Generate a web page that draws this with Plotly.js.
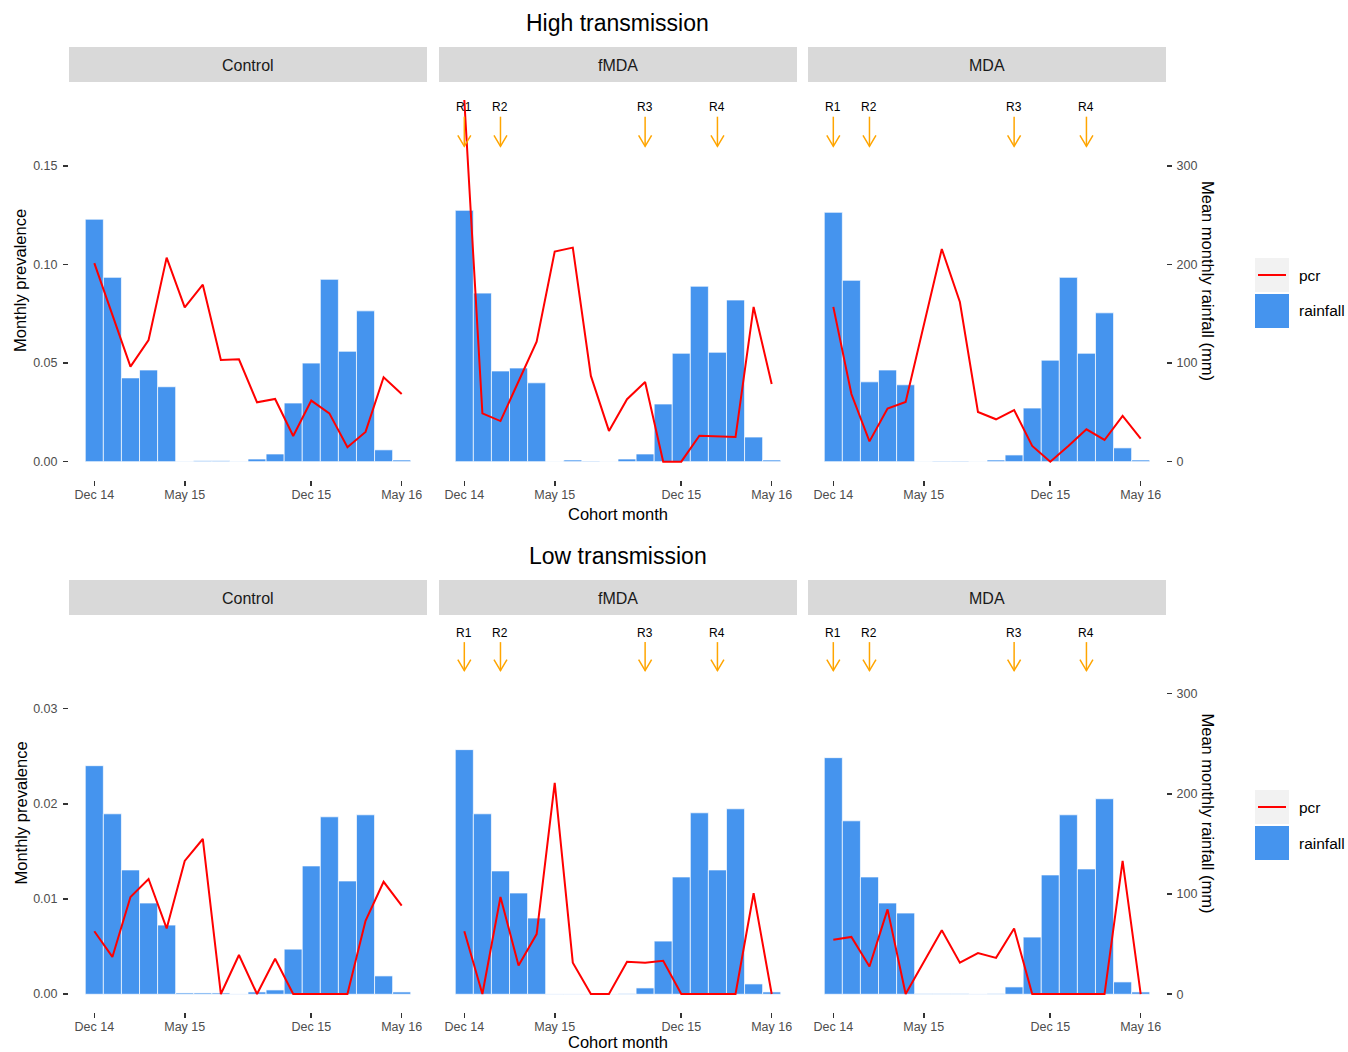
<!DOCTYPE html>
<html><head><meta charset="utf-8">
<script src="https://cdn.plot.ly/plotly-3.0.1.min.js"></script>
<style>html,body{margin:0;padding:0;background:#fff}#chart{width:1348px;height:1052px}</style>
</head><body><div id="chart"></div>
<script>
// ---------- data ----------
const months = ['Dec 14','Jan 15','Feb 15','Mar 15','Apr 15','May 15','Jun 15','Jul 15','Aug 15','Sep 15','Oct 15','Nov 15','Dec 15','Jan 16','Feb 16','Mar 16','Apr 16','May 16'];
const tickMonths = ['Dec 14','May 15','Dec 15','May 16'];
const arms = ['Control','fMDA','MDA'];
const rowTitles = ['High transmission','Low transmission'];
const roundLabels = ['R1','R2','R3','R4'];
const roundMonths = ['Dec 14','Feb 15','Oct 15','Feb 16'];
const prevTickVals = [[0,0.05,0.10,0.15],[0,0.01,0.02,0.03]];
const prevTickText = [['0.00','0.05','0.10','0.15'],['0.00','0.01','0.02','0.03']];
const rainTickVals = [0,100,200,300];
const rainTickText = ['0','100','200','300'];

// High transmission: mean monthly rainfall (mm) and monthly PCR prevalence
const rainHighControl = [246, 187, 85, 93, 76, 0.4, 1, 1, 0.4, 2.7, 7.8, 59.5, 100, 185, 112, 153, 12, 1.7];
const pcrHighControl  = [0.1007, 0.074, 0.0482, 0.0617, 0.1035, 0.0783, 0.0898, 0.0516, 0.0519, 0.0301, 0.0318, 0.0130, 0.0310, 0.0245, 0.0073, 0.0151, 0.0428, 0.0343];
const rainHighFMDA    = [255, 171, 92, 95, 80, 0.3, 1.7, 0.7, 0.3, 2.7, 7.8, 58.5, 110, 178, 111, 164, 25, 1.7];
const pcrHighFMDA     = [0.1835, 0.0245, 0.0206, 0.041, 0.0609, 0.1066, 0.1086, 0.0435, 0.0156, 0.0317, 0.0404, 0, 0, 0.0132, 0.0130, 0.0125, 0.0785, 0.0394];
const rainHighMDA     = [253, 184, 81, 93, 78, 0.3, 0.7, 0.7, 0.3, 1.7, 6.8, 54.4, 103, 187, 110, 151, 14, 1.7];
const pcrHighMDA      = [0.0785, 0.0343, 0.0103, 0.0269, 0.0303, 0.0685, 0.1079, 0.0810, 0.0252, 0.0215, 0.0262, 0.0080, 0, 0.0080, 0.0164, 0.0110, 0.0232, 0.0117];

// Low transmission
const rainLowControl = [228, 180, 124, 91, 69, 1.3, 1.3, 1.3, 0.3, 2.3, 4.3, 45, 128, 177, 113, 179, 18.3, 2.3];
const pcrLowControl  = [0.0066, 0.0039, 0.0102, 0.0121, 0.0069, 0.0140, 0.0163, 0, 0.0041, 0, 0.0037, 0, 0, 0, 0, 0.0077, 0.0118, 0.0093];
const rainLowFMDA    = [244, 180, 123, 101, 76, 0.3, 0.3, 0.3, 0.3, 0.6, 6.3, 53, 117, 181, 124, 185, 10.3, 2.3];
const pcrLowFMDA     = [0.0066, 0, 0.0102, 0.0030, 0.0063, 0.0222, 0.0033, 0, 0, 0.0034, 0.0033, 0.0035, 0, 0, 0, 0, 0.0106, 0];
const rainLowMDA     = [236, 173, 117, 91, 81, 0.6, 0.6, 0.6, 0.3, 0.6, 7.3, 57, 119, 179, 125, 195, 12.3, 2.3];
const pcrLowMDA      = [0.0057, 0.0060, 0.0029, 0.0089, 0, 0.0034, 0.0067, 0.0033, 0.0043, 0.0038, 0.0069, 0, 0, 0, 0, 0, 0.0140, 0];

const rainfall = [[rainHighControl, rainHighFMDA, rainHighMDA],[rainLowControl, rainLowFMDA, rainLowMDA]];
const pcr      = [[pcrHighControl, pcrHighFMDA, pcrHighMDA],[pcrLowControl, pcrLowFMDA, pcrLowMDA]];

// ---------- layout geometry ----------
const W = 1348, H = 1052;
const fx = v => v / W, fy = v => 1 - v / H;
const panelX = [[69,427],[439,797],[808,1166]];
const rowY = [[82,480],[615,1012]];
const stripY = [[47,82],[580,615]];
const prevRange = [[-0.0093,0.1926],[-0.00189,0.03985]];
const rainRange = [[-18.6,385.2],[-17.7,378.3]];
const arrowPos = [{label:0.18, top:0.175, tip:0.16},{label:0.038, top:0.037, tip:0.034}];
const FONT = 'Liberation Sans, Arial, Helvetica, sans-serif';
const BLUE = '#4594EE', RED = '#FF0000', ORANGE = '#FFA500';

const traces = [], shapes = [], annotations = [];
const layout = {
  width: W, height: H, margin: {l:0, r:0, t:0, b:0},
  paper_bgcolor: '#fff', plot_bgcolor: 'rgba(0,0,0,0)',
  showlegend: false, font: {family: FONT},
  shapes: shapes, annotations: annotations
};

const tickFont = {family: FONT, size: 12.5, color: '#4D4D4D'};
const common = {showgrid:false, zeroline:false, showline:false, fixedrange:true, tickcolor:'#333333', ticklen:5, tickwidth:1.6, tickfont: tickFont};

for (let r = 0; r < 2; r++) {
  for (let a = 0; a < 3; a++) {
    const k = r * 3 + a + 1;
    const xid = k === 1 ? 'x' : 'x' + k;
    const yRid = k === 1 ? 'y' : 'y' + k;
    const yPid = 'y' + (k + 6);

    traces.push({type:'bar', x: months, y: rainfall[r][a], xaxis: xid, yaxis: yRid, width: 1,
      marker: {color: BLUE, line: {color: '#FFFFFF', width: 0.7}}, hoverinfo: 'x+y', name: 'rainfall'});
    traces.push({type:'scatter', mode:'lines', x: months, y: pcr[r][a], xaxis: xid, yaxis: yPid,
      line: {color: RED, width: 2}, hoverinfo: 'x+y', name: 'pcr'});

    layout['xaxis' + (k === 1 ? '' : k)] = Object.assign({}, common, {
      type:'category', categoryorder:'array', categoryarray: months,
      domain: [fx(panelX[a][0]), fx(panelX[a][1])], range: [-1.4, 18.4], anchor: yRid,
      tickmode:'array', tickvals: tickMonths, ticktext: tickMonths, ticks:'outside', ticklabelstandoff: -2
    });
    layout['yaxis' + (k === 1 ? '' : k)] = Object.assign({}, common, {
      domain: [fy(rowY[r][1]), fy(rowY[r][0])], range: rainRange[r], anchor: xid, side: 'right',
      tickmode:'array', tickvals: rainTickVals, ticktext: rainTickText,
      ticks: a === 2 ? 'outside' : '', showticklabels: a === 2, ticklabelstandoff: 2
    });
    layout['yaxis' + (k + 6)] = Object.assign({}, common, {
      overlaying: yRid, anchor: xid, side: 'left', range: prevRange[r],
      tickmode:'array', tickvals: prevTickVals[r], ticktext: prevTickText[r],
      ticks: a === 0 ? 'outside' : '', showticklabels: a === 0, ticklabelstandoff: 3
    });

    // strip
    shapes.push({type:'rect', xref:'paper', yref:'paper', layer:'below',
      x0: fx(panelX[a][0]), x1: fx(panelX[a][1]), y0: fy(stripY[r][1]), y1: fy(stripY[r][0]),
      fillcolor:'#D9D9D9', line:{width:0}});
    annotations.push({xref:'paper', yref:'paper', x: fx((panelX[a][0]+panelX[a][1])/2), y: fy((stripY[r][0]+stripY[r][1])/2 + 1),
      text: arms[a], showarrow:false, xanchor:'center', yanchor:'middle', font:{family:FONT, size:16, color:'#1A1A1A'}});

    // rounds (intervention arms only)
    if (a > 0) {
      roundMonths.forEach((m, j) => {
        const idx = months.indexOf(m);
        const ap = arrowPos[r];
        shapes.push({type:'line', xref: xid, yref: yPid, x0: idx, x1: idx, y0: ap.top, y1: ap.tip,
          line:{color: ORANGE, width: 1.5}});
        shapes.push({type:'path', xref: xid, yref: yPid, xsizemode:'pixel', ysizemode:'pixel',
          xanchor: idx, yanchor: ap.tip, path:'M-6.5,11L0,0L6.5,11', line:{color: ORANGE, width: 1.5}});
        annotations.push({xref: xid, yref: yPid, x: idx, y: ap.label, text: roundLabels[j], showarrow:false,
          xanchor:'center', yanchor:'middle', font:{family:FONT, size:12, color:'#000'}});
      });
    }
  }

  const cy = (rowY[r][0] + rowY[r][1]) / 2;
  // row title
  annotations.push({xref:'paper', yref:'paper', x: fx(617.5), y: fy(r === 0 ? 23 : 556), text: rowTitles[r],
    showarrow:false, xanchor:'center', yanchor:'middle', font:{family:FONT, size:23, color:'#000'}});
  // axis titles
  annotations.push({xref:'paper', yref:'paper', x: fx(617.5), y: fy(r === 0 ? 514 : 1042), text:'Cohort month',
    showarrow:false, xanchor:'center', yanchor:'middle', font:{family:FONT, size:16.5, color:'#000'}});
  annotations.push({xref:'paper', yref:'paper', x: fx(20), y: fy(cy), text:'Monthly prevalence', textangle:-90,
    showarrow:false, xanchor:'center', yanchor:'middle', font:{family:FONT, size:16.5, color:'#000'}});
  annotations.push({xref:'paper', yref:'paper', x: fx(1208), y: fy(cy), text:'Mean monthly rainfall (mm)', textangle:90,
    showarrow:false, xanchor:'center', yanchor:'middle', font:{family:FONT, size:16.5, color:'#000'}});

  // legend
  const ly = r === 0 ? 258 : 790;
  shapes.push({type:'rect', xref:'paper', yref:'paper', x0: fx(1255), x1: fx(1289), y0: fy(ly+34), y1: fy(ly),
    fillcolor:'#F2F2F2', line:{width:0}});
  shapes.push({type:'line', xref:'paper', yref:'paper', x0: fx(1258), x1: fx(1286), y0: fy(ly+17), y1: fy(ly+17),
    line:{color: RED, width: 2}});
  shapes.push({type:'rect', xref:'paper', yref:'paper', x0: fx(1255), x1: fx(1289), y0: fy(ly+70), y1: fy(ly+36),
    fillcolor: BLUE, line:{width:0}});
  annotations.push({xref:'paper', yref:'paper', x: fx(1297), y: fy(ly+17), text:'pcr', showarrow:false,
    xanchor:'left', yanchor:'middle', font:{family:FONT, size:15.5, color:'#000'}});
  annotations.push({xref:'paper', yref:'paper', x: fx(1297), y: fy(ly+53), text:'rainfall', showarrow:false,
    xanchor:'left', yanchor:'middle', font:{family:FONT, size:15.5, color:'#000'}});
}

Plotly.newPlot('chart', traces, layout, {displayModeBar:false, staticPlot:true});
</script>
</body></html>
